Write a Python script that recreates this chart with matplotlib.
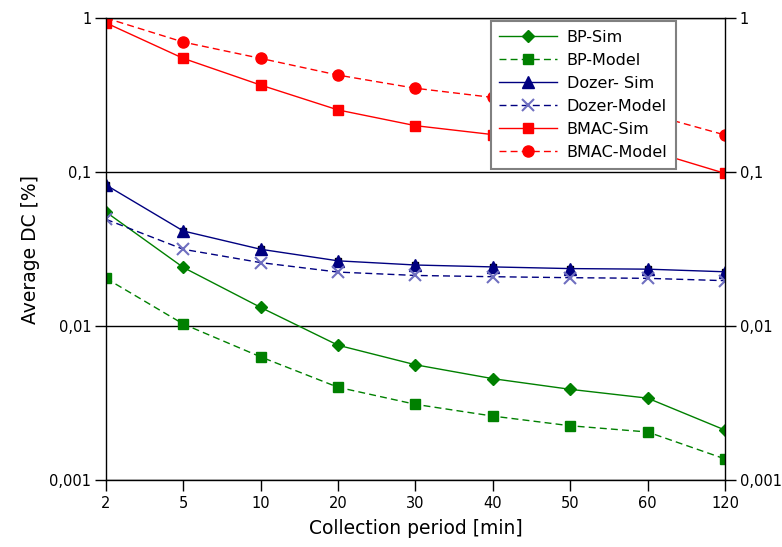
import matplotlib
matplotlib.use("Agg")
import matplotlib.pyplot as plt
from matplotlib.ticker import FixedLocator, FixedFormatter, NullLocator

periods = ["2", "5", "10", "20", "30", "40", "50", "60", "120"]

bp_sim = [0.055, 0.024, 0.0132, 0.0075, 0.0056, 0.00455, 0.00388, 0.0034, 0.00211]
bp_model = [0.0204, 0.0103, 0.0063, 0.0040, 0.0031, 0.0026, 0.00225, 0.00205, 0.00137]
dozer_sim = [0.0824, 0.0414, 0.0315, 0.0265, 0.0249, 0.0242, 0.0236, 0.0234, 0.0225]
dozer_model = [0.0493, 0.0315, 0.0258, 0.0224, 0.0213, 0.0209, 0.0206, 0.0204, 0.0197]
bmac_sim = [0.93, 0.547, 0.367, 0.253, 0.200, 0.175, 0.155, 0.139, 0.098]
bmac_model = [1.0, 0.698, 0.547, 0.426, 0.350, 0.305, 0.27, 0.24, 0.174]

ytick_vals = [0.001, 0.01, 0.1, 1]
ytick_labels = ["0,001", "0,01", "0,1", "1"]

plt.rcParams['font.family'] = ['DejaVu Sans']

fig = plt.figure(figsize=(7.82, 5.47), dpi=100)
ax = fig.add_axes([0.1355, 0.1225, 0.7916, 0.8445])

x = list(range(len(periods)))
dash = (0, (5, 3))

ax.plot(x, bp_sim, color='#008000', lw=1, marker='D', ms=6, mfc='#008000', mec='#008000', label='BP-Sim')
ax.plot(x, bp_model, color='#008000', lw=1, ls=dash, marker='s', ms=7.5, mfc='#008000', mec='#008000', label='BP-Model')
# small black caps sitting under the Dozer-Sim triangles
ax.plot(x, dozer_sim, ls='none', marker='s', ms=5, mfc='black', mec='black')
ax.plot(x, dozer_sim, color='#000080', lw=1, marker='^', ms=8, mfc='#000080', mec='#000080', label='Dozer- Sim')
ax.plot(x, dozer_model, color='#000080', lw=1, ls=dash, marker='x', ms=8, mew=1.5, mec='#6f6fc0', label='Dozer-Model')
ax.plot(x, bmac_sim, color='#ff0000', lw=1, marker='s', ms=7.5, mfc='#ff0000', mec='#ff0000', label='BMAC-Sim')
ax.plot(x, bmac_model, color='#ff0000', lw=1, ls=dash, marker='o', ms=8, mfc='#ff0000', mec='#ff0000', label='BMAC-Model')

ax.set_yscale('log')
ax.set_ylim(0.001, 1)
ax.set_xlim(0, len(periods) - 1)

ax.yaxis.set_major_locator(FixedLocator(ytick_vals))
ax.yaxis.set_major_formatter(FixedFormatter(ytick_labels))
ax.yaxis.set_minor_locator(NullLocator())
ax.set_xticks(x)
ax.set_xticklabels(periods)

for v in ytick_vals:
    ax.axhline(v, color='black', lw=1, zorder=0.5)

ax.tick_params(axis='both', direction='out', length=8, width=1, labelsize=10.5, colors='black')
ax.tick_params(axis='y', right=True, labelright=True, pad=2.5)
for s in ax.spines.values():
    s.set_linewidth(1)
    s.set_color('black')

ax.set_xlabel('Collection period [min]', fontsize=13.5, labelpad=6)
ax.set_ylabel('Average DC [%]', fontsize=13.5, labelpad=7)

leg = ax.legend(loc='upper right', bbox_to_anchor=(0.921, 0.9935), fontsize=11.5, frameon=True,
                fancybox=False, edgecolor='#808080', framealpha=1, handlelength=3.6,
                labelspacing=0.5, borderpad=0.55, borderaxespad=0, handletextpad=0.6)
leg.get_frame().set_linewidth(1.5)

fig.savefig('out.png', dpi=100)
